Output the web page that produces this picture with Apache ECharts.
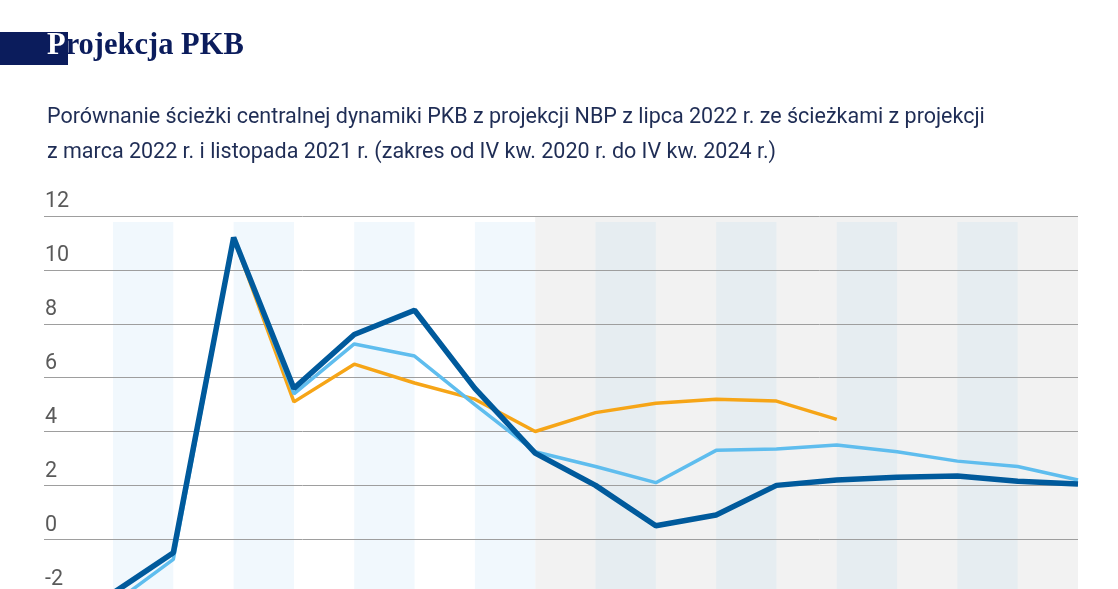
<!DOCTYPE html>
<html>
<head>
<meta charset="utf-8">
<script src="https://cdn.jsdelivr.net/npm/echarts@6/dist/echarts.min.js"></script>
<style>
html,body{margin:0;padding:0;background:#fff;overflow:hidden;width:1118px;height:589px;}
#chart{width:1118px;height:660px;}
</style>
</head>
<body>
<div id="chart"></div>
<script>
// ---- data ----
const quarters = ['IV kw. 2020','I kw. 2021','II kw. 2021','III kw. 2021','IV kw. 2021',
  'I kw. 2022','II kw. 2022','III kw. 2022','IV kw. 2022','I kw. 2023','II kw. 2023',
  'III kw. 2023','IV kw. 2023','I kw. 2024','II kw. 2024','III kw. 2024','IV kw. 2024'];
const projLipiec2022 = [-2.0,-0.5,11.2,5.6,7.6,8.5,5.6,3.2,2.0,0.5,0.9,2.0,2.2,2.3,2.35,2.15,2.05];
const projMarzec2022 = [-2.4,-0.75,11.2,5.4,7.25,6.8,5.0,3.25,2.7,2.1,3.3,3.35,3.5,3.25,2.9,2.7,2.2];
const projListopad2021 = [-2.0,-0.5,11.2,5.1,6.5,5.8,5.2,4.0,4.7,5.05,5.2,5.13,4.45,null,null,null,null];
const yTicks = [-4,-2,0,2,4,6,8,10,12];
const titleText = 'Projekcja PKB';
const subtitleLines = [
  'Porównanie ścieżki centralnej dynamiki PKB z projekcji NBP z lipca 2022 r. ze ścieżkami z projekcji',
  'z marca 2022 r. i listopada 2021 r. (zakres od IV kw. 2020 r. do IV kw. 2024 r.)'
];
// quarter index where the projection (shaded) period starts
const projectionStart = 7;

const chart = echarts.init(document.getElementById('chart'), null, {renderer:'canvas'});
const toPts = arr => arr.map((v,i)=>[i, v]);
const last = quarters.length - 1;
const yMin = yTicks[0], yMax = yTicks[yTicks.length-1];
const bandTop = 11.78;

const lightBands = [], darkBands = [];
for (let i = 0; i < last; i += 2) {
  const pair = [{xAxis:i, yAxis:bandTop},{xAxis:i+1, yAxis:yMin}];
  if (i + 1 <= projectionStart) lightBands.push(pair); else darkBands.push(pair);
}

const option = {
  animation:false,
  backgroundColor:'#ffffff',
  grid:{left:44, right:40, top:216, bottom:13, containLabel:false},
  xAxis:{type:'value', min:-1.144, max:last, show:false},
  yAxis:{
    type:'value', min:yMin, max:yMax, interval:2, z:3,
    axisLine:{show:false}, axisTick:{show:false},
    splitLine:{show:true, lineStyle:{color:'#9e9e9e', width:1}},
    axisLabel:{inside:true, margin:1, align:'left', verticalAlign:'bottom',
      padding:[0,0,3,0], fontFamily:'Roboto', fontSize:21.5, color:'#5a5a5a'}
  },
  graphic:[
    {type:'rect', shape:{x:0,y:32,width:68,height:33}, style:{fill:'#0b1c5c'}},
    {type:'text', left:47, top:31, style:{
      text:'{w|' + titleText.slice(0,1) + '}{n|' + titleText.slice(1) + '}',
      rich:{
        w:{fontFamily:'Liberation Serif', fontWeight:'bold', fontSize:30.5, fill:'#ffffff'},
        n:{fontFamily:'Liberation Serif', fontWeight:'bold', fontSize:30.5, fill:'#0b1c5c'}
      }}},
    {type:'text', left:47, top:107, style:{text:subtitleLines[0], fontFamily:'Roboto', fontSize:21.5, fill:'#1f2d55'}},
    {type:'text', left:47, top:142, style:{text:subtitleLines[1], fontFamily:'Roboto', fontSize:21.5, fill:'#1f2d55'}}
  ],
  series:[
    {type:'line', data:[], z:1, silent:true,
      markArea:{silent:true, itemStyle:{color:'#f2f2f2'},
        data:[[{xAxis:projectionStart, yAxis:yMax},{xAxis:last, yAxis:yMin}]]}},
    {type:'line', data:[], z:2, silent:true,
      markArea:{silent:true, itemStyle:{color:'#f1f8fd'}, data:lightBands}},
    {type:'line', data:[], z:2, silent:true,
      markArea:{silent:true, itemStyle:{color:'#e6edf1'}, data:darkBands}},
    {name:'listopad 2021', type:'line', data:toPts(projListopad2021), z:4,
      showSymbol:false, connectNulls:false, lineStyle:{color:'#f6a517', width:3.5}},
    {name:'marzec 2022', type:'line', data:toPts(projMarzec2022), z:5,
      showSymbol:false, lineStyle:{color:'#5fbdee', width:3.5}},
    {name:'lipiec 2022', type:'line', data:toPts(projLipiec2022), z:6,
      showSymbol:false, lineStyle:{color:'#005a9c', width:5.5}}
  ]
};
chart.setOption(option);
</script>
</body>
</html>
